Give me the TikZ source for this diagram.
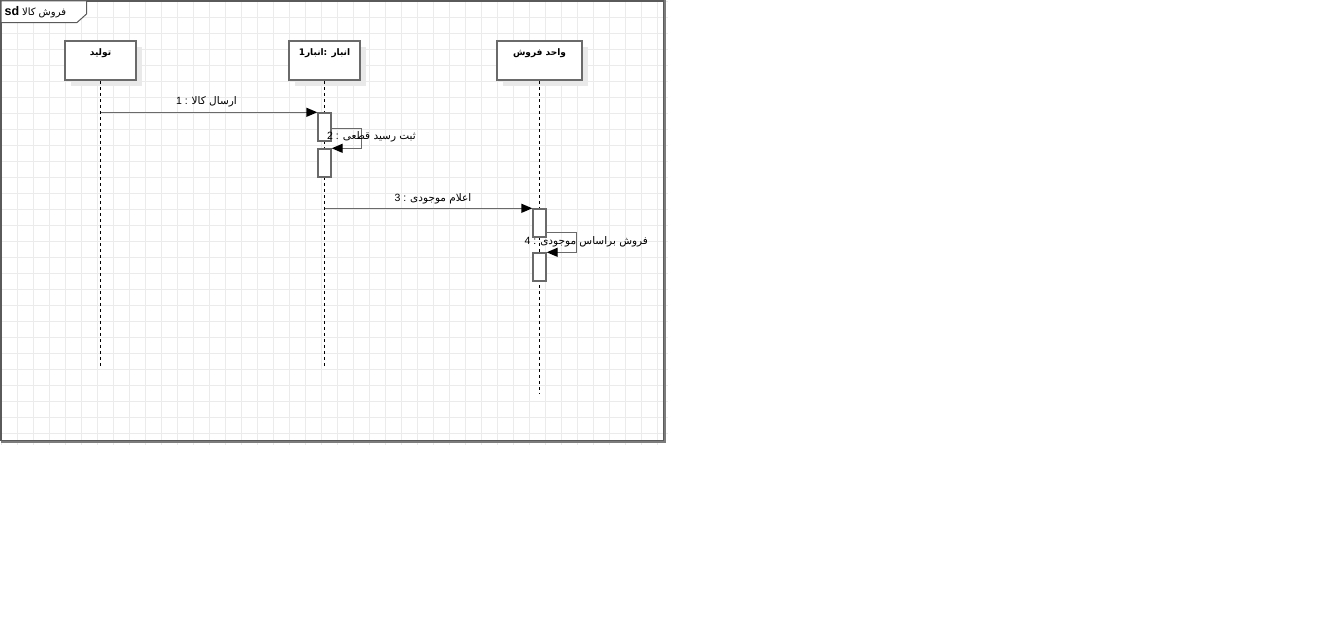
\documentclass[tikz,border=0pt]{standalone}
\usepackage{fontspec}
\setmainfont{Liberation Sans}
\newfontfamily\fa[Script=Arabic]{DejaVu Sans}
\TeXXeTstate=1
\usetikzlibrary{arrows.meta}

\definecolor{gridc}{HTML}{EBEBEB}
\definecolor{framec}{HTML}{5A5A5A}
\definecolor{frameshade}{HTML}{7C7C7C}
\definecolor{linec}{HTML}{6A6A6A}
\definecolor{shadec}{HTML}{E9E9E9}

\tikzset{
  headbox/.style={draw=linec, line width=1.5, fill=white, minimum width=71, minimum height=39, inner sep=0},
  headshadow/.style={fill=shadec, draw=none},
  headtext/.style={font=\fontsize{9}{10}\selectfont\bfseries, inner sep=0},
  lifeline/.style={black, line width=1, dash pattern=on 3.5 off 2.5},
  actbox/.style={draw=linec, line width=1.4, fill=white, minimum width=13, minimum height=28, inner sep=0},
  msg/.style={linec, line width=1.4, -{Triangle[length=11,width=9,fill=black,color=black]}},
  msglabel/.style={font=\fontsize{10.5}{12}\selectfont, inner sep=0, text=black},
}

\begin{document}
\begin{tikzpicture}[x=1pt,y=-1pt]
  \useasboundingbox[fill=white] (0,0) rectangle (1341,633);

  % background grid of the diagram sheet
  \foreach \i in {0,...,41} \draw[gridc, line width=1] (1.3+16*\i,0) -- (1.3+16*\i,445);
  \foreach \j in {0,...,27} \draw[gridc, line width=1] (0,1.3+16*\j) -- (668,1.3+16*\j);

  % sequence diagram frame with its name tab
  \draw[framec, line width=1.5] (1,0.75) rectangle (664,440.5);
  \draw[frameshade, line width=2] (664.5,0) -- (664.5,441.5) -- (1,441.5);
  \draw[framec, line width=1, fill=white] (1,0.75) -- (86.5,0.75) -- (86.5,14) -- (77,22.5) -- (1,22.5) -- cycle;
  \node[anchor=west, inner sep=0] (title) at (4.5,12)
    {\fontsize{12.5}{14}\selectfont\bfseries sd\mdseries\fontsize{10}{12}\selectfont\ {\fa\beginR فروش کالا\endR}};

  % lifeline heads
  \fill[headshadow] (71,47) rectangle (142,86);
  \fill[headshadow] (295,47) rectangle (366,86);
  \fill[headshadow] (503,47) rectangle (588,86);
  \node[headbox] (h1) at (100.5,60.5) {};
  \node[headbox] (h2) at (324.5,60.5) {};
  \node[headbox, minimum width=85] (h3) at (539.5,60.5) {};
  \node[headtext] (h1t) at ([yshift=-13pt]h1.north) {\fa\beginR تولید\endR};
  \node[headtext] (h2t) at ([yshift=-13pt]h2.north) {\fa\beginR انبار1\endR: \beginR انبار\endR};
  \node[headtext] (h3t) at ([yshift=-13pt]h3.north) {\fa\beginR واحد فروش\endR};

  % lifeline ends
  \coordinate (e1) at (100.5,366);
  \coordinate (e2) at (324.5,366);
  \coordinate (e3) at (539.5,393);
  \draw[lifeline] (h1.south) -- (e1);
  \draw[lifeline] (h2.south) -- (e2);
  \draw[lifeline] (h3.south) -- (e3);

  % activation bars
  \node[actbox] (a1) at (324.5,127) {};
  \node[actbox] (a2) at (324.5,163) {};
  \node[actbox] (a3) at (539.5,223) {};
  \node[actbox] (a4) at (539.5,267) {};

  % messages
  \draw[msg] (h1 |- a1.north west) -- (a1.north west);
  \draw[msg] ([yshift=-16pt]a1.north east) -- ++(30,0) |- (a2.north east);
  \draw[msg] (h2 |- a3.north west) -- (a3.north west);
  \draw[msg] ([yshift=-24pt]a3.north east) -- ++(30,0) |- (a4.north east);

  % message labels
  \node[msglabel] (l1) at (206.5,101.5) {1 : {\fa\beginR ارسال کالا\endR}};
  \node[msglabel, anchor=west] (l2) at (327,136.5) {2 : {\fa\beginR ثبت رسید قطعی\endR}};
  \node[msglabel] (l3) at (433,198.5) {3 : {\fa\beginR اعلام موجودی\endR}};
  \node[msglabel, anchor=west] (l4) at (524.5,241.5) {4 : {\fa\beginR فروش براساس موجودی\endR}};
\end{tikzpicture}
\end{document}
